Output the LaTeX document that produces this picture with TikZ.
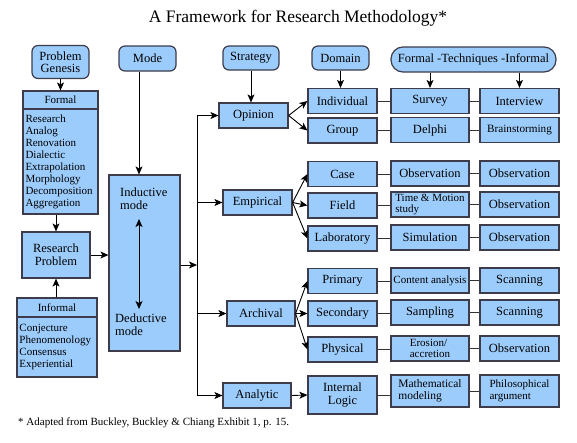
\documentclass[tikz,border=0pt]{standalone}
\usepackage{fontspec}
\setmainfont{Liberation Serif}
\usetikzlibrary{arrows.meta}
\definecolor{boxblue}{RGB}{156,204,252}
\definecolor{boxline}{RGB}{60,60,75}

\begin{document}
\begin{tikzpicture}[
  x=1pt, y=-1pt,
  % Common look of the text
  every node/.style={font=\fontsize{12.5}{13}\selectfont, inner sep=1pt},
  small/.style={font=\fontsize{11}{12}\selectfont},
  % Rounded headings and plain boxes
  pill/.style={draw=boxline, line width=1.2pt, fill=boxblue, rounded corners=6pt, align=center},
  cell/.style={draw=boxline, line width=1.2pt, fill=boxblue, minimum height=25pt, align=center},
  domcol/.style={cell, minimum width=69pt},
  fcol/.style={cell, minimum width=78pt},
  icol/.style={cell, minimum width=79pt},
  arr/.style={-{Stealth[length=8pt,width=7pt,inset=2pt]}, line width=0.9pt},
  link/.style={line width=0.9pt, draw=black!80}
]
  \useasboundingbox (0,0) rectangle (577,442);

  % Title and note
  \node[font=\fontsize{17.5}{20}\selectfont] (title) at (298,18) {A Framework for Research Methodology*};
  \node[anchor=west, font=\fontsize{11}{12}\selectfont] (note) at (17,423) {* Adapted from Buckley, Buckley \& Chiang Exhibit 1, p. 15.};

  % Column headings
  \node[pill, minimum width=57pt, minimum height=33pt] (genesis) at (60.5,62) {Problem\\[-1pt]Genesis};
  \node[pill, minimum width=57pt, minimum height=25pt] (mode) at (147.5,58.5) {Mode};
  \node[pill, minimum width=56pt, minimum height=24pt] (strategy) at (251,58) {Strategy};
  \node[pill, minimum width=57pt, minimum height=24pt] (domain) at (340.5,58) {Domain};
  \node[pill, minimum width=165pt, minimum height=25pt, rounded corners=12pt] (techniques) at (473.5,59.5) {Formal -Techniques -Informal};

  % Problem genesis column
  \node[cell, minimum width=75pt, minimum height=18pt, small] (formalhead) at (60.5,100) {Formal};
  \node[cell, minimum width=75pt, minimum height=105pt, align=left, text width=70pt, small] (formal) at (60.5,161.5)
    {Research\\Analog\\Renovation\\Dialectic\\Extrapolation\\Morphology\\Decomposition\\Aggregation};
  \node[cell, minimum width=68pt, minimum height=46pt] (problem) at (56,255) {Research\\Problem};
  \node[cell, minimum width=80pt, minimum height=19pt, small] (informalhead) at (57,307.5) {Informal};
  \node[cell, minimum width=80pt, minimum height=60pt, align=left, text width=75pt, small] (informal) at (57,347)
    {Conjecture\\Phenomenology\\Consensus\\Experiential};

  % Mode column
  \node[cell, minimum width=71pt, minimum height=176pt] (modebox) at (144.5,263) {};
  \node[align=left, anchor=west] (inductive) at (119,199) {Inductive\\mode};
  \node[align=left, anchor=west] (deductive) at (114,325) {Deductive\\mode};
  \coordinate (indtip) at (139,219);
  \coordinate (dedtip) at (139,309);
  \coordinate (bus) at (197,0);

  % Strategies
  \node[domcol] (opinion) at (253.5,115.5) {Opinion};
  \node[domcol] (empirical) at (257.5,202.5) {Empirical};
  \node[cell, minimum width=68pt] (archival) at (261,313.5) {Archival};
  \node[cell, minimum width=68pt] (analytic) at (257,395.5) {Analytic};

  % Domains
  \node[domcol] (individual) at (342.5,101) {Individual};
  \node[domcol] (group) at (342.5,130.5) {Group};
  \node[domcol] (case) at (342.5,174) {Case};
  \node[domcol] (field) at (342.5,205.5) {Field};
  \node[domcol] (laboratory) at (342.5,238.5) {Laboratory};
  \node[domcol] (primary) at (342.5,281) {Primary};
  \node[domcol] (secondary) at (342.5,313.5) {Secondary};
  \node[domcol] (physical) at (342.5,349.5) {Physical};
  \node[domcol, minimum height=38pt] (internal) at (342.5,395) {Internal\\Logic};

  % Formal techniques
  \node[fcol] (survey) at (430,101) {Survey};
  \node[fcol] (delphi) at (430,130) {Delphi};
  \node[fcol] (obscase) at (430,173.5) {Observation};
  \node[fcol, align=left, font=\fontsize{11}{10.5}\selectfont] (timemotion) at (430,204.5) {Time \& Motion\\study};
  \node[fcol] (simulation) at (430,237.5) {Simulation};
  \node[fcol, font=\fontsize{11}{12}\selectfont] (content) at (430,280.5) {Content analysis};
  \node[fcol] (sampling) at (430,312.5) {Sampling};
  \node[fcol, align=left, font=\fontsize{11}{10.5}\selectfont] (erosion) at (430,348.5) {Erosion/\\accretion};
  \node[fcol, minimum height=32pt, align=left, font=\fontsize{11.5}{12}\selectfont] (math) at (430,391) {Mathematical\\modeling};

  % Informal techniques
  \node[icol] (interview) at (519.5,101) {Interview};
  \node[icol, font=\fontsize{11.2}{12}\selectfont] (brainstorm) at (519.5,130) {Brainstorming};
  \node[icol] (obscase2) at (519.5,173.5) {Observation};
  \node[icol] (obsfield) at (519.5,204.5) {Observation};
  \node[icol] (obslab) at (519.5,237.5) {Observation};
  \node[icol] (scanprim) at (519.5,280.5) {Scanning};
  \node[icol] (scansec) at (519.5,312.5) {Scanning};
  \node[icol] (obsphys) at (519.5,348.5) {Observation};
  \node[icol, minimum height=32pt, align=left, font=\fontsize{11}{12}\selectfont] (philo) at (519.5,391) {Philosophical\\argument};

  % Heading arrows
  \draw[arr] (genesis.south) -- (genesis.south |- formalhead.north);
  \draw[arr] (mode.south -| indtip) -- (modebox.north -| indtip);
  \draw[arr] (strategy.south) -- (strategy.south |- opinion.north);
  \draw[arr] (domain.south) -- (domain.south |- individual.north);
  \draw[arr] (techniques.south -| survey.north) -- (survey.north);
  \draw[arr] (techniques.south -| interview.north) -- (interview.north);

  % Research problem
  \draw[arr] (problem.north |- formal.south) -- (problem.north);
  \draw[arr] (problem.south |- informalhead.north) -- (problem.south);
  \draw[arr] (problem.east) -- (problem.east -| modebox.west);
  \draw[arr, {Stealth[length=8pt,width=7pt,inset=2pt]}-{Stealth[length=8pt,width=7pt,inset=2pt]}] (indtip) -- (dedtip);

  % Strategy bus
  \draw[arr] (modebox.east |- 0,265) -- (bus |- 0,265);
  \draw[line width=0.9pt] (bus |- opinion) -- (bus |- analytic);
  \foreach \s in {opinion, empirical, archival, analytic}
    \draw[arr] (bus |- \s) -- (\s.west);

  % Strategy to domain
  \foreach \d in {individual, group}
    \draw[arr] (opinion.east) -- (\d.west);
  \foreach \d in {case, field, laboratory}
    \draw[arr] (empirical.east) -- (\d.west);
  \foreach \d in {primary, secondary, physical}
    \draw[arr] (archival.east) -- (\d.west);
  \draw[arr] (analytic.east) -- (internal.west);

  % Domain to techniques
  \foreach \a/\b/\c in {individual/survey/interview, group/delphi/brainstorm, case/obscase/obscase2,
      field/timemotion/obsfield, laboratory/simulation/obslab, primary/content/scanprim,
      secondary/sampling/scansec, physical/erosion/obsphys}{
    \draw[link] (\a.east) -- (\a.east -| \b.west);
    \draw[link] (\b.east) -- (\b.east -| \c.west);
  }
  \draw[link] (internal.east) -- (internal.east -| math.west);
  \draw[link] (math.east) -- (math.east -| philo.west);
\end{tikzpicture}
\end{document}
